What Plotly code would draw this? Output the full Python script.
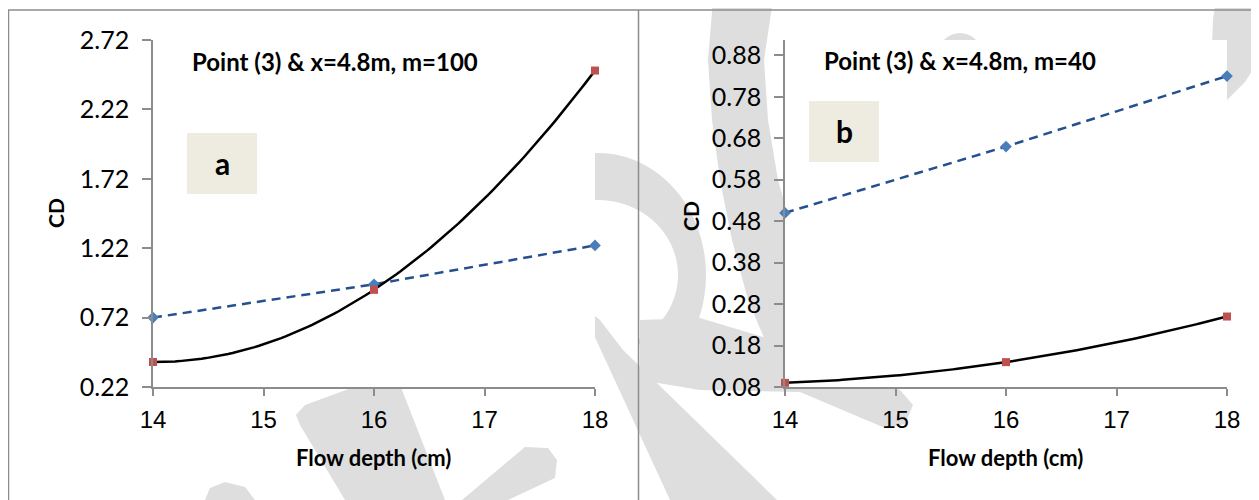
import numpy as np
import plotly.graph_objects as go

# ---------------- data ----------------
depth = [14, 16, 18]
x_ticks = [14, 15, 16, 17, 18]

a_blue = [0.72, 0.96, 1.24]
a_red = [0.40, 0.92, 2.50]
b_blue = [0.50, 0.66, 0.83]
b_red = [0.09, 0.14, 0.25]

a_yticks = [0.22, 0.72, 1.22, 1.72, 2.22, 2.72]
b_yticks = [0.08, 0.18, 0.28, 0.38, 0.48, 0.58, 0.68, 0.78, 0.88]

a_title = "Point (3) & x=4.8m, m=100"
b_title = "Point (3) & x=4.8m, m=40"
x_title = "Flow depth (cm)"
y_title = "CD"

# ---------------- helpers ----------------
# the page body has an 8px default margin: the figure is sized to fill the rest of the window
OFF = 8
W, H = 1259 - OFF, 500 - OFF


def px(x):
    return (x - OFF) / W


def py(y):
    return 1 - (y - OFF) / H


def poly_path(pts):
    return "M " + " L ".join(f"{px(x):.5f},{py(y):.5f}" for x, y in pts) + " Z"


def trend(xv, yv):
    c = np.polyfit(xv, yv, 2)
    xs = np.linspace(min(xv), max(xv), 101)
    return xs, np.polyval(c, xs)


BLUE_LINE = "#24508F"
BLUE_MK = "#4A7EBB"
RED_MK = "#C0504D"
AXIS = "#8C8C8C"
WM = "#DEDEDE"

fig = go.Figure()

for (blue, red, xa, ya) in [(a_blue, a_red, "x", "y"), (b_blue, b_red, "x2", "y2")]:
    fig.add_trace(go.Scatter(x=depth, y=blue, xaxis=xa, yaxis=ya, mode="lines+markers",
                             line=dict(color=BLUE_LINE, width=2.5, dash="9px,6px"),
                             marker=dict(symbol="diamond", size=9, color=BLUE_MK),
                             cliponaxis=False, showlegend=False, hoverinfo="skip"))
    tx, ty = trend(depth, red)
    fig.add_trace(go.Scatter(x=tx, y=ty, xaxis=xa, yaxis=ya, mode="lines",
                             line=dict(color="black", width=2.5),
                             cliponaxis=False, showlegend=False, hoverinfo="skip"))
    fig.add_trace(go.Scatter(x=depth, y=red, xaxis=xa, yaxis=ya, mode="markers",
                             marker=dict(symbol="square", size=8, color=RED_MK),
                             cliponaxis=False, showlegend=False, hoverinfo="skip"))

# ---------------- watermark (light grey, outside plot areas) ----------------
shapes = []


def add_poly(pts):
    shapes.append(dict(type="path", xref="paper", yref="paper", path=poly_path(pts),
                       fillcolor=WM, line=dict(width=0), layer="below"))


# long arc band (right panel, left side)
add_poly([(713, 0), (708, 60), (712, 120), (720, 180), (732, 240), (748, 300), (765, 340),
          (790, 380), (900, 380), (830, 300), (795, 240), (778, 180), (768, 120), (764, 60), (773, 0)])
# bowl ring between panels
cx, cy = 598, 275
ang = np.linspace(-np.pi / 2, np.pi / 3, 40)
outer = [(cx + 108 * np.cos(t), cy + 122 * np.sin(t)) for t in ang]
inner = [(cx + 80 * np.cos(t), cy + 75 * np.sin(t)) for t in ang[::-1]]
add_poly([(560, 153)] + outer + inner + [(560, 200)])
# tongue
add_poly([(640, 320), (700, 318), (790, 345), (900, 390), (913, 405), (905, 424), (885, 428),
          (800, 392), (700, 390), (640, 380)])
# leg
add_poly([(575, 300), (600, 320), (623, 350), (777, 500), (670, 500), (593, 333)])
# left panel bands
add_poly([(300, 425), (296, 415), (305, 405), (395, 372), (445, 500), (345, 500)])
add_poly([(525, 447), (548, 448), (557, 460), (555, 478), (508, 500), (462, 500)])
add_poly([(205, 500), (210, 488), (225, 482), (245, 487), (255, 500)])
# top-right piece
add_poly([(1216, 0), (1213, 20), (1212, 45), (1212, 110), (1227, 100), (1245, 82), (1259, 60), (1259, 0)])
# small bump
shapes.append(dict(type="circle", xref="paper", yref="paper", x0=px(938), x1=px(982),
                   y0=py(77), y1=py(33), fillcolor=WM, line=dict(width=0), layer="below"))

# white plot areas
for (x0, x1) in [(153, 595), (785, 1227)]:
    shapes.append(dict(type="rect", xref="paper", yref="paper", x0=px(x0), x1=px(x1),
                       y0=py(387), y1=py(40), fillcolor="white", line=dict(width=0), layer="below"))

# panel borders
for (x0, y0, x1, y1) in [(8.5, 10, 8.5, 500), (8, 10, 1259, 10), (638.5, 10, 638.5, 500)]:
    shapes.append(dict(type="line", xref="paper", yref="paper", x0=px(x0), y0=py(y0), x1=px(x1), y1=py(y1),
                       line=dict(color=AXIS, width=1.5), layer="below"))

# label boxes
for (x0, y0, x1, y1) in [(187, 133, 257, 194), (809, 101, 879, 162)]:
    shapes.append(dict(type="rect", xref="paper", yref="paper", x0=px(x0), x1=px(x1),
                       y0=py(y1), y1=py(y0), fillcolor="#EEECE1", line=dict(width=0), layer="below"))

# ---------------- annotations ----------------
ann = []
BOLD = "Lato"
ann.append(dict(text=f"<b>{a_title}</b>", x=px(190), y=py(62), xanchor="left", yanchor="middle",
                font=dict(family=BOLD, size=24, color="black")))
ann.append(dict(text=f"<b>{b_title}</b>", x=px(822), y=py(60), xanchor="left", yanchor="middle",
                font=dict(family=BOLD, size=24, color="black")))
ann.append(dict(text="<b>a</b>", x=px(222), y=py(163), xanchor="center", yanchor="middle",
                font=dict(family=BOLD, size=30, color="black")))
ann.append(dict(text="<b>b</b>", x=px(844), y=py(131), xanchor="center", yanchor="middle",
                font=dict(family=BOLD, size=30, color="black")))
for xc in [373, 1005]:
    ann.append(dict(text=f"<b>{x_title}</b>", x=px(xc), y=py(457), xanchor="center", yanchor="middle",
                    font=dict(family=BOLD, size=22, color="black")))
for (xc, yc) in [(55, 213), (690, 216)]:
    ann.append(dict(text=f"<b>{y_title}</b>", x=px(xc), y=py(yc), xanchor="center", yanchor="middle",
                    textangle=-90, font=dict(family=BOLD, size=21, color="black")))
for a in ann:
    a.update(xref="paper", yref="paper", showarrow=False)

# ---------------- axes ----------------
xcommon = dict(showline=True, linecolor=AXIS, linewidth=1.5, ticks="outside", ticklen=7, tickwidth=1.5,
               tickcolor=AXIS, tickvals=x_ticks, ticktext=[str(v) for v in x_ticks],
               showgrid=False, zeroline=False, range=[14, 18], automargin=False,
               tickfont=dict(family="Liberation Sans", size=24, color="black"), ticklabelstandoff=3)
ycommon = dict(showline=True, linecolor=AXIS, linewidth=1.5, ticks="outside", ticklen=9, tickwidth=1.5,
               tickcolor=AXIS, showgrid=False, zeroline=False, automargin=False,
               tickfont=dict(family="Lato", size=25, color="black"), ticklabelstandoff=8)

fig.update_layout(
    template="none",
    width=W, height=H, margin=dict(l=0, r=0, t=0, b=0, pad=0, autoexpand=False),
    paper_bgcolor="white", plot_bgcolor="rgba(0,0,0,0)",
    xaxis=dict(domain=[px(153), px(595)], anchor="y", **xcommon),
    yaxis=dict(domain=[py(387), py(40)], anchor="x", range=[0.22, 2.72], tickvals=a_yticks,
               ticktext=[f"{v:.2f}" for v in a_yticks], **ycommon),
    xaxis2=dict(domain=[px(785), px(1227)], anchor="y2", **xcommon),
    yaxis2=dict(domain=[py(387), py(40)], anchor="x2", range=[0.08, 0.917], tickvals=b_yticks,
                ticktext=[f"{v:.2f}" for v in b_yticks], **ycommon),
    shapes=shapes, annotations=ann, showlegend=False,
)

fig.write_html("out.html")
